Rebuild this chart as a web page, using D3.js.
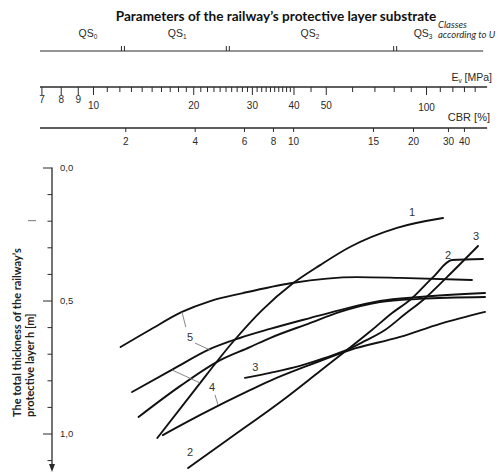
<!DOCTYPE html>
<html><head><meta charset="utf-8">
<script src="https://cdn.jsdelivr.net/npm/d3@7"></script>
<style>body{margin:0;background:#fff;overflow:hidden}</style>
</head><body>
<svg id="c" width="503" height="473"></svg>
<script>
// ---------- data ----------
const titleText = "Parameters of the railway\u2019s protective layer substrate";
const classNote = ["Classes", "according to U"];
const classNames = ["QS", "QS", "QS", "QS"];
const classSubs = ["0", "1", "2", "3"];
const classLabelE = [9.66, 17.9, 44.8, 98.0];
const classBoundE = [12.3, 25.4, 80.8];
const axisExtentE = [6.93, 152.6];

const eTickLabels = [7, 8, 9, 10, 20, 30, 40, 50, 100];
const eMinorTicks = [7,8,9,10,11,12,13,14,15,16,17,18,19,20,21,22,23,24,25,26,27,28,29,30,
                     31,32,33,34,35,36,37,38,39,40,45,50,60,70,80,90,100,110,120,130,140];
const cbrTickLabels = [2, 4, 6, 8, 10, 15, 20, 30, 40];
const cbrEquivE = [12.5, 20.2, 28.4, 34.7, 39.9, 69.3, 91.4, 116.4, 130];

const hMinorTicks = [0, 0.1, 0.2, 0.3, 0.4, 0.5, 0.6, 0.7, 0.8, 0.9, 1.0, 1.1];
const hMajorTicks = [0, 0.5, 1.0];
const hMajorLabels = ["0,0", "0,5", "1,0"];
const yTitle = ["The total thickness of the railway\u2019s", "protective layer h [m]"];

// curves: E [MPa] vs h [m]
const c1E = [15.6, 20.3, 26.3, 32.2, 39.6, 48.1, 59.1, 81.8, 112.5];
const c1H = [1.017, 0.833, 0.656, 0.536, 0.438, 0.367, 0.299, 0.227, 0.190];
const c5aE = [12.1, 14.8, 18.5, 22.5, 28.2, 39.6, 62.1, 83.6, 137.4];
const c5aH = [0.675, 0.611, 0.543, 0.502, 0.472, 0.434, 0.412, 0.415, 0.423];
const c45E = [13.1, 17.4, 22.5, 27.6, 34.0, 44.8, 55.2, 72.7, 95.9, 150.4];
const c45H = [0.844, 0.758, 0.682, 0.641, 0.607, 0.566, 0.536, 0.502, 0.487, 0.472];
const cDE = [13.7, 18.3, 24.1, 29.6, 34.0, 44.8, 55.2, 72.7, 95.9, 150.4];
const cDH = [0.938, 0.821, 0.724, 0.675, 0.641, 0.585, 0.543, 0.506, 0.494, 0.487];
const c4bE = [16.2, 21.0, 29.6, 34.0, 44.8, 59.1, 83.6, 110.2, 150.4];
const c4bH = [1.006, 0.930, 0.837, 0.802, 0.742, 0.686, 0.637, 0.588, 0.543];
const c3E = [28.6, 34.0, 41.8, 49.7, 57.9, 65.6, 75.3, 86.5, 98.0, 115.6, 143.3];
const c3H = [0.791, 0.772, 0.746, 0.716, 0.686, 0.652, 0.611, 0.551, 0.498, 0.412, 0.295];
const c2E = [19.3, 25.8, 37.2, 48.1, 57.9, 68.8, 79.1, 89.5, 105.0, 119.7, 148.3];
const c2H = [1.130, 1.017, 0.874, 0.765, 0.686, 0.611, 0.547, 0.498, 0.412, 0.348, 0.344];

const curveLabelText = ["1", "2", "2", "3", "3", "4", "5"];
const curveLabelE = [90.8, 116.4, 19.56, 141.3, 30.7, 22.77, 19.56];
const curveLabelH = [0.167, 0.329, 1.070, 0.258, 0.750, 0.825, 0.637];

// leader lines (label side -> curve side)
const leaderFromE = [19.0, 20.25, 20.96, 23.25];
const leaderFromH = [0.600, 0.660, 0.810, 0.855];
const leaderToE = [18.5, 22.46, 17.27, 23.74];
const leaderToH = [0.543, 0.686, 0.761, 0.893];

// ---------- drawing ----------
const svg = d3.select("#c");
const x = d3.scaleLog().domain([10, 100]).range([93, 426]);
const y = d3.scaleLinear().domain([0, 1]).range([167.5, 433.5]);
const cbr = d3.scaleLinear().domain(cbrTickLabels).range(cbrEquivE.map(e => x(e)));

const numFont = "'Liberation Sans', Arial, sans-serif";
const txtFont = "Lato, 'Open Sans', sans-serif";
const ink = "#2a2a2a";

// title
svg.append("text").attr("x", 276).attr("y", 21).attr("text-anchor", "middle")
  .attr("font-family", txtFont).attr("font-weight", "bold").attr("font-size", 13.6)
  .attr("fill", "#111").text(titleText);

// class note
svg.append("text").attr("x", 438).attr("y", 28).attr("font-family", txtFont)
  .attr("font-style", "italic").attr("font-size", 9.5).attr("fill", ink).text(classNote[0]);
svg.append("text").attr("x", 438).attr("y", 38).attr("font-family", txtFont)
  .attr("font-style", "italic").attr("font-size", 9.5).attr("fill", ink).text(classNote[1]);

// QS line
const qsY = 51;
svg.append("line").attr("x1", x(axisExtentE[0])).attr("x2", x(axisExtentE[1]) - 4)
  .attr("y1", qsY).attr("y2", qsY).attr("stroke", ink).attr("stroke-width", 1.2);
classBoundE.forEach(e => {
  [-1.5, 1.5].forEach(dx => {
    svg.append("line").attr("x1", x(e) + dx).attr("x2", x(e) + dx)
      .attr("y1", qsY).attr("y2", qsY - 5).attr("stroke", ink).attr("stroke-width", 1);
  });
});
classNames.forEach((n, i) => {
  const t = svg.append("text").attr("x", x(classLabelE[i])).attr("y", 37)
    .attr("text-anchor", "middle").attr("font-family", numFont).attr("font-size", 10.5)
    .attr("fill", ink);
  t.append("tspan").text(n);
  t.append("tspan").attr("font-size", 6.5).attr("dy", 2).text(classSubs[i]);
});

// E axis
const eY = 87;
svg.append("line").attr("x1", x(axisExtentE[0])).attr("x2", x(axisExtentE[1]))
  .attr("y1", eY).attr("y2", eY).attr("stroke", ink).attr("stroke-width", 1.3);
const gEmin = svg.append("g").attr("transform", `translate(0,${eY})`)
  .call(d3.axisBottom(x).tickValues(eMinorTicks.filter(v => !eTickLabels.includes(v)))
    .tickSize(5).tickFormat(""));
gEmin.select(".domain").remove();
const gE = svg.append("g").attr("transform", `translate(0,${eY})`)
  .call(d3.axisBottom(x).tickValues(eTickLabels).tickSize(8).tickPadding(6.5)
    .tickFormat(d3.format("d")));
gE.select(".domain").remove();
[gEmin, gE].forEach(g => g.selectAll("line").attr("stroke", ink).attr("stroke-width", 1));
gE.selectAll("text").attr("font-family", numFont).attr("font-size", 10).attr("fill", ink)
  .attr("transform", d => d < 10 ? "translate(0,-6)" : (d >= 100 ? "translate(0,2)" : null));
svg.append("text").attr("x", 492).attr("y", 81).attr("text-anchor", "end")
  .attr("font-family", numFont).attr("font-size", 10.5).attr("fill", ink)
  .call(t => {
    t.append("tspan").text("E");
    t.append("tspan").attr("font-size", 6.5).attr("dy", 2).text("v");
    t.append("tspan").attr("dy", -2).text(" [MPa]");
  });

// CBR axis
const cY = 128;
svg.append("line").attr("x1", x(axisExtentE[0])).attr("x2", x(axisExtentE[1]))
  .attr("y1", cY).attr("y2", cY).attr("stroke", ink).attr("stroke-width", 1.3);
const gC = svg.append("g").attr("transform", `translate(0,${cY})`)
  .call(d3.axisBottom(cbr).tickValues(cbrTickLabels).tickSize(4).tickPadding(5.5)
    .tickFormat(d3.format("d")));
gC.select(".domain").remove();
gC.selectAll("line").attr("stroke", ink).attr("stroke-width", 1);
gC.selectAll("text").attr("font-family", numFont).attr("font-size", 10).attr("fill", ink);
svg.append("text").attr("x", 490).attr("y", 121).attr("text-anchor", "end")
  .attr("font-family", numFont).attr("font-size", 11).attr("fill", ink).text("CBR [%]");

// Y axis
const ax = 52;
svg.append("line").attr("x1", ax).attr("x2", ax).attr("y1", y(0)).attr("y2", 466)
  .attr("stroke", ink).attr("stroke-width", 1.3);
svg.append("path").attr("d", `M${ax - 3},464 L${ax + 3},464 L${ax},472 Z`).attr("fill", ink);
const gYmin = svg.append("g").attr("transform", `translate(${ax},0)`)
  .call(d3.axisRight(y).tickValues(hMinorTicks.filter(v => !hMajorTicks.includes(v)))
    .tickSize(-4.5).tickFormat(""));
gYmin.select(".domain").remove();
const gY = svg.append("g").attr("transform", `translate(${ax},0)`)
  .call(d3.axisRight(y).tickValues(hMajorTicks).tickSize(-9).tickPadding(8)
    .tickFormat((d, i) => hMajorLabels[i]));
gY.select(".domain").remove();
[gYmin, gY].forEach(g => g.selectAll("line").attr("stroke", ink).attr("stroke-width", 1));
gY.selectAll("text").attr("font-family", numFont).attr("font-size", 9.5).attr("fill", ink);
svg.append("line").attr("x1", 28).attr("x2", 36).attr("y1", y(0.2)).attr("y2", y(0.2))
  .attr("stroke", "#777").attr("stroke-width", 1);

// Y title
yTitle.forEach((t, i) => {
  svg.append("text").attr("transform", `translate(${21 + i * 13},417) rotate(-90)`)
    .attr("font-family", txtFont).attr("font-weight", "bold").attr("font-size", 11)
    .attr("fill", "#222").text(t);
});

// curves
const curves = [[c1E, c1H], [c5aE, c5aH], [c45E, c45H], [cDE, cDH], [c4bE, c4bH], [c3E, c3H], [c2E, c2H]];
const line = d3.line().x(d => x(d[0])).y(d => y(d[1])).curve(d3.curveMonotoneX);
curves.forEach(([es, hs]) => {
  svg.append("path").attr("d", line(es.map((e, i) => [e, hs[i]])))
    .attr("fill", "none").attr("stroke", "#111").attr("stroke-width", 1.9)
    .attr("stroke-linecap", "round");
});

// leaders
leaderFromE.forEach((e, i) => {
  svg.append("line").attr("x1", x(e)).attr("y1", y(leaderFromH[i]))
    .attr("x2", x(leaderToE[i])).attr("y2", y(leaderToH[i]))
    .attr("stroke", "#777").attr("stroke-width", 0.9);
});

// curve labels
curveLabelText.forEach((t, i) => {
  svg.append("text").attr("x", x(curveLabelE[i])).attr("y", y(curveLabelH[i]))
    .attr("dy", "0.36em").attr("text-anchor", "middle")
    .attr("font-family", numFont).attr("font-size", 11).attr("fill", "#333").text(t);
});
</script>
</body></html>
